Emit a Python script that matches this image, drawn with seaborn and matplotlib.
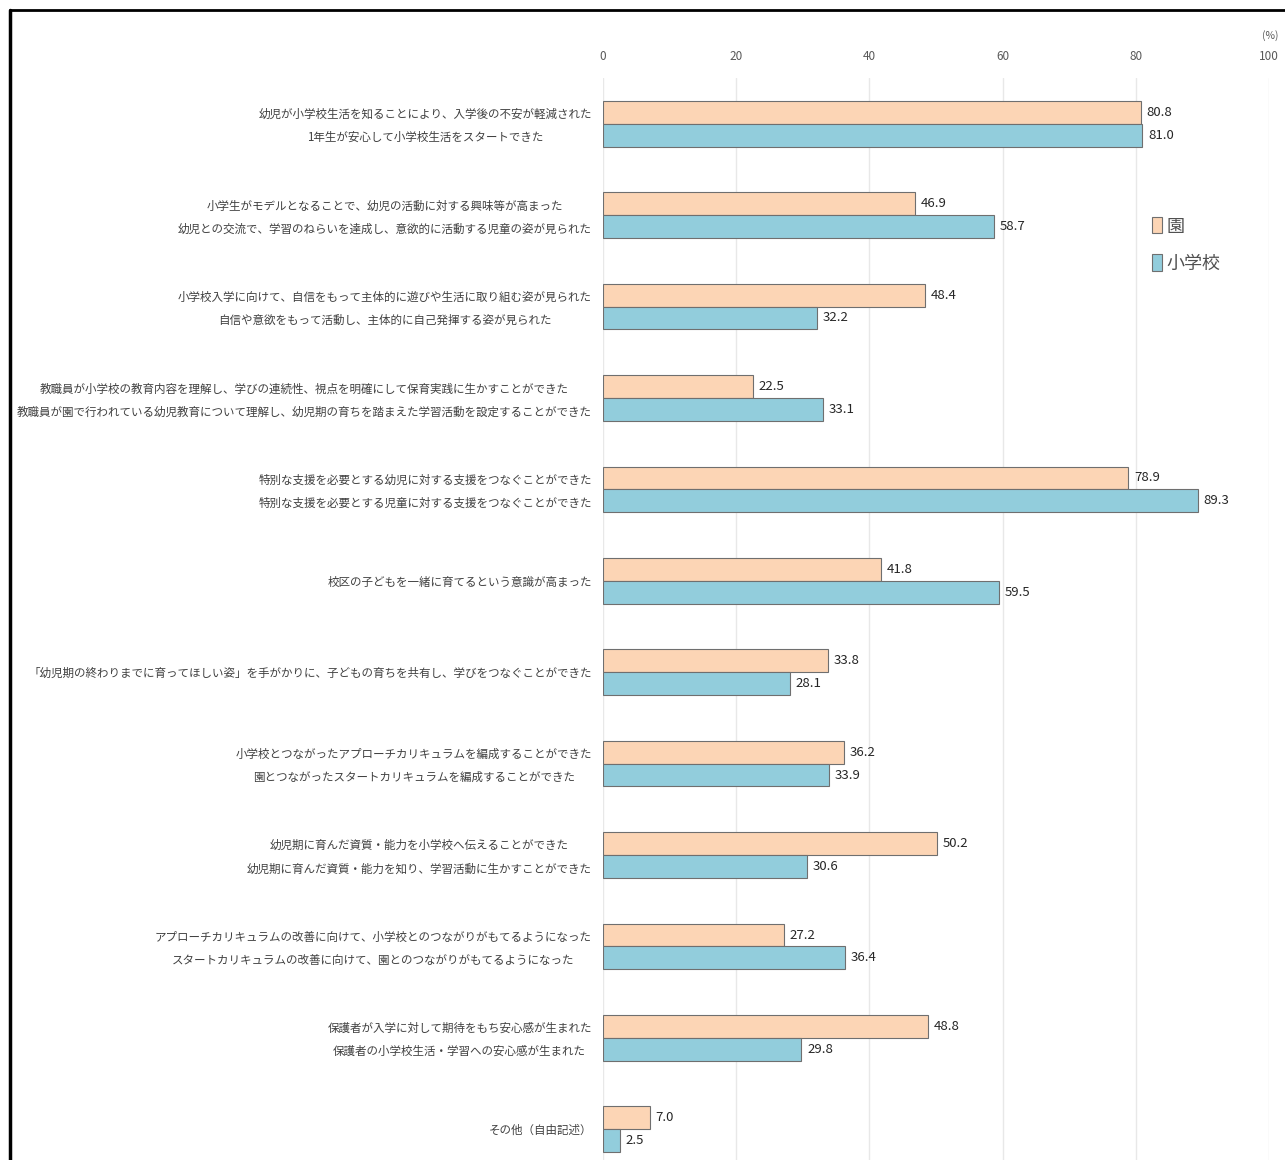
import matplotlib.pyplot as plt
import seaborn as sns
import pandas as pd
from matplotlib.lines import Line2D
from matplotlib.transforms import ScaledTranslation

items = [
    "幼児が小学校生活を知ることにより、入学後の不安が軽減された\n1年生が安心して小学校生活をスタートできた",
    "小学生がモデルとなることで、幼児の活動に対する興味等が高まった\n幼児との交流で、学習のねらいを達成し、意欲的に活動する児童の姿が見られた",
    "小学校入学に向けて、自信をもって主体的に遊びや生活に取り組む姿が見られた\n自信や意欲をもって活動し、主体的に自己発揮する姿が見られた",
    "教職員が小学校の教育内容を理解し、学びの連続性、視点を明確にして保育実践に生かすことができた\n教職員が園で行われている幼児教育について理解し、幼児期の育ちを踏まえた学習活動を設定することができた",
    "特別な支援を必要とする幼児に対する支援をつなぐことができた\n特別な支援を必要とする児童に対する支援をつなぐことができた",
    "校区の子どもを一緒に育てるという意識が高まった",
    "「幼児期の終わりまでに育ってほしい姿」を手がかりに、子どもの育ちを共有し、学びをつなぐことができた",
    "小学校とつながったアプローチカリキュラムを編成することができた\n園とつながったスタートカリキュラムを編成することができた",
    "幼児期に育んだ資質・能力を小学校へ伝えることができた\n幼児期に育んだ資質・能力を知り、学習活動に生かすことができた",
    "アプローチカリキュラムの改善に向けて、小学校とのつながりがもてるようになった\nスタートカリキュラムの改善に向けて、園とのつながりがもてるようになった",
    "保護者が入学に対して期待をもち安心感が生まれた\n保護者の小学校生活・学習への安心感が生まれた",
    "その他（自由記述）",
]
en = [80.8, 46.9, 48.4, 22.5, 78.9, 41.8, 33.8, 36.2, 50.2, 27.2, 48.8, 7.0]
shogakko = [81.0, 58.7, 32.2, 33.1, 89.3, 59.5, 28.1, 33.9, 30.6, 36.4, 29.8, 2.5]
groups = ['園', '小学校']
colors = ['#FCD5B5', '#92CDDC']

df = pd.DataFrame({
    'item': items * 2,
    'group': [groups[0]] * len(items) + [groups[1]] * len(items),
    'value': en + shogakko,
})

sns.set_theme(style='white')
plt.rcParams['font.family'] = ['Noto Sans CJK JP', 'DejaVu Sans']

W, H = 1285, 1160
fig = plt.figure(figsize=(W / 100, H / 100), dpi=100)
ax = fig.add_axes([603 / W, 1 - 1175 / H, (1269 - 603) / W, (1175 - 78) / H])

sns.barplot(data=df, y='item', x='value', hue='group', hue_order=groups,
            palette=colors, saturation=1, orient='h', width=0.5,
            edgecolor='#6f6f6f', linewidth=0.8, ax=ax)

for c in ax.containers:
    ax.bar_label(c, fmt='%.1f', padding=4, fontsize=9.5, color='#262626')

ax.set_xlim(0, 100)
ax.set_xticks(range(0, 101, 20))
ax.xaxis.tick_top()
ax.tick_params(axis='x', length=0, pad=11, labelsize=8.5, labelcolor='#595959')
ax.tick_params(axis='y', length=0, pad=8, labelsize=8.3, labelcolor='#404040')
# two-line labels sit a bit low with this font, nudge them up
shift = ScaledTranslation(0, 3 / 72, fig.dpi_scale_trans)
for lbl in ax.get_yticklabels():
    lbl.set_multialignment('center')
    lbl.set_linespacing(2.0)
    if '\n' in lbl.get_text():
        lbl.set_transform(lbl.get_transform() + shift)
ax.set_xlabel('')
ax.set_ylabel('')
ax.xaxis.grid(True, color='#e8e8e8', lw=1)
ax.set_axisbelow(True)
for s in ax.spines.values():
    s.set_visible(False)

fig.text(1270 / W, 1 - 36 / H, '(%)', ha='center', va='center', fontsize=7.5, color='#595959')

ax.legend(bbox_to_anchor=(1136 / W, 1 - 201 / H), loc='upper left',
          bbox_transform=fig.transFigure, frameon=False, fontsize=13,
          handlelength=0.55, handleheight=1.0, handletextpad=0.25,
          labelspacing=1.05, labelcolor='#505050')

fig.add_artist(Line2D([10 / W, 1], [1 - 10 / H] * 2, transform=fig.transFigure, color='black', lw=2))
fig.add_artist(Line2D([10 / W] * 2, [0, 1 - 10 / H], transform=fig.transFigure, color='black', lw=2.5))

fig.savefig('out.png', dpi=100)
